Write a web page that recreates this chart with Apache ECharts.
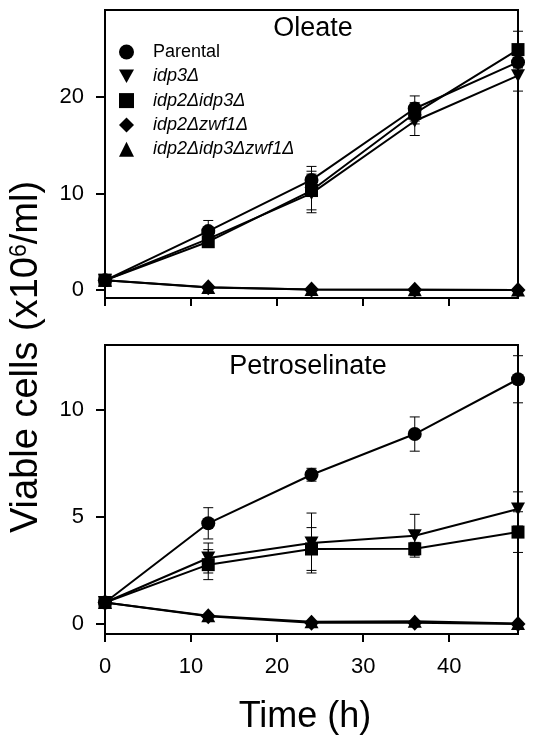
<!DOCTYPE html>
<html>
<head>
<meta charset="utf-8">
<script src="https://cdn.jsdelivr.net/npm/echarts@6/dist/echarts.min.js"></script>
<style>
html,body{margin:0;padding:0;background:#fff;}
#chart{width:537px;height:747px;}
</style>
</head>
<body>
<div id="chart"></div>
<script>
// ---- data ----
var hours = [0, 12, 24, 36, 48];
var seriesNames = ['Parental', 'idp3\u0394', 'idp2\u0394idp3\u0394', 'idp2\u0394zwf1\u0394', 'idp2\u0394idp3\u0394zwf1\u0394'];

// Oleate panel
var oleParental  = [1.0, 6.1, 11.4, 18.8, 23.6];
var oleIdp3      = [1.0, 5.3, 10.0, 17.5, 22.2];
var oleIdp2Idp3  = [1.0, 5.0, 10.3, 18.3, 24.9];
var oleIdp2Zwf1  = [1.0, 0.28, 0.05, 0.03, 0.01];
var oleTriple    = [1.0, 0.25, 0.05, 0.02, 0.01];
var oleParentalErr = [0, 1.1, 1.4, 1.3, 0.5];
var oleIdp3Err     = [0, 0.5, 2.0, 1.5, 1.6];
var oleIdp2Idp3Err = [0, 0.4, 2.0, 1.1, 1.9];

// Petroselinate panel
var petParental  = [1.0, 4.7, 6.97, 8.87, 11.43];
var petIdp3      = [1.0, 3.08, 3.78, 4.12, 5.37];
var petIdp2Idp3  = [1.0, 2.77, 3.5, 3.51, 4.29];
var petIdp2Zwf1  = [1.0, 0.36, 0.05, 0.05, 0.0];
var petTriple    = [1.0, 0.38, 0.1, 0.12, 0.02];
var petParentalErr = [0, 0.73, 0.3, 0.8, 1.1];
var petIdp3Err     = [0, 0.7, 1.4, 1.0, 0.8];
var petIdp2Idp3Err = [0, 0.7, 1.0, 0.3, 0.95];

var xTicks = [0, 10, 20, 30, 40];
var yTicksTop = [0, 10, 20];
var yTicksBottom = [0, 5, 10];
var panelTitles = ['Oleate', 'Petroselinate'];

// ---- styling ----
var FONT = '"Liberation Sans", Arial, Helvetica, sans-serif';
var downTri = 'path://M0,0L10,0L5,9Z';
var symbols = ['circle', downTri, 'rect', 'diamond', 'triangle'];
var symbolSizes = [14, [14, 13], 13, [15, 16], [14, 13]];

function pairs(vals) {
  return hours.map(function (h, i) { return [h, vals[i]]; });
}
function errData(vals, errs) {
  var out = [];
  for (var i = 0; i < hours.length; i++) {
    if (errs[i] > 0) out.push([hours[i], vals[i] - errs[i], vals[i] + errs[i]]);
  }
  return out;
}
function renderErr(params, api) {
  var x = api.value(0), lo = api.value(1), hi = api.value(2);
  var pHi = api.coord([x, hi]);
  var pLo = api.coord([x, lo]);
  var cap = 5;
  var st = { stroke: '#000', lineWidth: 1 };
  return {
    type: 'group',
    children: [
      { type: 'line', shape: { x1: pHi[0], y1: pHi[1], x2: pLo[0], y2: pLo[1] }, style: st },
      { type: 'line', shape: { x1: pHi[0] - cap, y1: pHi[1], x2: pHi[0] + cap, y2: pHi[1] }, style: st },
      { type: 'line', shape: { x1: pLo[0] - cap, y1: pLo[1], x2: pLo[0] + cap, y2: pLo[1] }, style: st }
    ]
  };
}

var panels = [
  { vals: [oleParental, oleIdp3, oleIdp2Idp3, oleIdp2Zwf1, oleTriple],
    errs: [[oleParental, oleParentalErr], [oleIdp3, oleIdp3Err], [oleIdp2Idp3, oleIdp2Idp3Err]] },
  { vals: [petParental, petIdp3, petIdp2Idp3, petIdp2Zwf1, petTriple],
    errs: [[petParental, petParentalErr], [petIdp3, petIdp3Err], [petIdp2Idp3, petIdp2Idp3Err]] }
];

var series = [];
panels.forEach(function (p, pi) {
  p.errs.forEach(function (e) {
    series.push({
      type: 'custom', xAxisIndex: pi, yAxisIndex: pi, z: 1,
      renderItem: renderErr, data: errData(e[0], e[1]), silent: true
    });
  });
  p.vals.forEach(function (v, si) {
    series.push({
      type: 'line', name: seriesNames[si], xAxisIndex: pi, yAxisIndex: pi, z: 3,
      data: pairs(v), symbol: symbols[si], symbolSize: symbolSizes[si],
      showAllSymbol: true, animation: false,
      lineStyle: { color: '#000', width: 2 },
      itemStyle: { color: '#000', borderWidth: 0 }
    });
  });
});

function xAxis(gi, showLabels) {
  return {
    type: 'value', gridIndex: gi, min: 0, max: 48,
    axisLine: { show: true, onZero: false, lineStyle: { color: '#000', width: 2 } },
    axisTick: { show: true, length: 8, customValues: xTicks, lineStyle: { color: '#000', width: 2 } },
    axisLabel: { show: showLabels, customValues: xTicks, margin: 22, color: '#000', fontSize: 22, fontFamily: FONT },
    splitLine: { show: false }
  };
}
function yAxis(gi, min, max, ticks) {
  return {
    type: 'value', gridIndex: gi, min: min, max: max,
    axisLine: { show: true, onZero: false, lineStyle: { color: '#000', width: 2 } },
    axisTick: { show: true, length: 9, customValues: ticks, lineStyle: { color: '#000', width: 2 } },
    axisLabel: { show: true, customValues: ticks, margin: 21, color: '#000', fontSize: 22, fontFamily: FONT },
    splitLine: { show: false }
  };
}

var legendData = seriesNames.map(function (n, i) {
  return { name: n, icon: symbols[i] };
});

var option = {
  animation: false,
  backgroundColor: '#fff',
  grid: [
    { left: 105, top: 10, width: 413, height: 288, show: true, borderColor: '#000', borderWidth: 2, backgroundColor: 'transparent' },
    { left: 105, top: 345, width: 413, height: 289, show: true, borderColor: '#000', borderWidth: 2, backgroundColor: 'transparent' }
  ],
  xAxis: [xAxis(0, false), xAxis(1, true)],
  yAxis: [yAxis(0, -0.83, 29.0, yTicksTop), yAxis(1, -0.47, 13.03, yTicksBottom)],
  legend: {
    orient: 'vertical', left: 114, top: 38,
    itemWidth: 15, itemHeight: 15, itemGap: 6.3,
    data: legendData,
    itemStyle: { borderWidth: 0 },
    formatter: function (name) {
      return name === 'Parental' ? '{n|' + name + '}' : '{i|' + name + '}';
    },
    textStyle: {
      color: '#000', fontSize: 18, fontFamily: FONT, lineHeight: 15,
      rich: {
        n: { fontSize: 18, fontFamily: FONT, color: '#000', padding: [0, 0, 0, 14], lineHeight: 15 },
        i: { fontSize: 18, fontFamily: FONT, color: '#000', fontStyle: 'italic', padding: [0, 0, 0, 14], lineHeight: 15 }
      }
    }
  },
  graphic: [
    { type: 'text', x: 313, y: 29, style: { text: panelTitles[0], font: '27px ' + FONT, fill: '#000', textAlign: 'center', textVerticalAlign: 'middle' } },
    { type: 'text', x: 308, y: 367, style: { text: panelTitles[1], font: '27px ' + FONT, fill: '#000', textAlign: 'center', textVerticalAlign: 'middle' } },
    { type: 'text', x: 305, y: 717, style: { text: 'Time (h)', font: '36px ' + FONT, fill: '#000', textAlign: 'center', textVerticalAlign: 'middle' } },
    { type: 'text', x: 27, y: 357, rotation: Math.PI / 2,
      style: {
        text: '{a|Viable cells (x10}{s|6}{a|/ml)}',
        fill: '#000', textAlign: 'center', textVerticalAlign: 'middle',
        rich: {
          a: { fontSize: 38, fontFamily: FONT, fill: '#000', lineHeight: 38 },
          s: { fontSize: 23, fontFamily: FONT, fill: '#000', verticalAlign: 'top', lineHeight: 23 }
        }
      } }
  ],
  series: series
};

var chart = echarts.init(document.getElementById('chart'), null, { renderer: 'canvas' });
chart.setOption(option);
</script>
</body>
</html>
